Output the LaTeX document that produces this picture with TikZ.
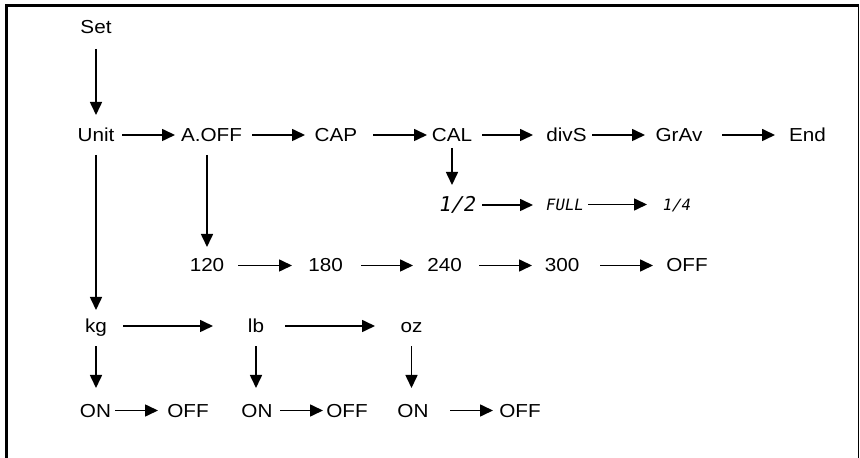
\documentclass[tikz,border=0pt]{standalone}
\usepackage{fontspec}
\setmainfont[FakeStretch=1.1]{Liberation Sans}
\newfontfamily\lcdfont[FakeSlant=0.18]{DejaVu Sans Mono}
\usetikzlibrary{arrows.meta}
\begin{document}
\begin{tikzpicture}[x=0.5pt,y=-0.5pt,
  lbl/.style={inner sep=0pt, outer sep=0pt, text height=6.5pt, text depth=0pt, font=\fontsize{9.4}{11}\selectfont},
  lcdbig/.style={inner sep=0pt, outer sep=0pt, text height=6.8pt, text depth=0pt, font=\lcdfont\fontsize{10.2}{12}\selectfont},
  lcdsmall/.style={inner sep=0pt, outer sep=0pt, text height=5.6pt, text depth=0pt, font=\lcdfont\fontsize{7.8}{9}\selectfont},
  arr/.style={line width=0.8pt, -{Triangle[length=6.5pt,width=6pt]}},
  frame/.style={line width=1.5pt}]
\useasboundingbox (0,0) rectangle (860,458);
% frame
\draw[frame] (6.5,458) -- (6.5,5.5) -- (859,5.5);
\draw[line width=0.6pt] (858.5,5) -- (858.5,458);
% row 0
\node[lbl] (set) at (96,27.5) {Set};
% row 1
\node[lbl] (unit) at (96,135) {Unit};
\node[lbl] (aoff) at (211.5,135) {A.OFF};
\node[lbl] (cap) at (336,135) {CAP};
\node[lbl] (cal) at (452,135) {CAL};
\node[lbl] (divs) at (566.5,135) {divS};
\node[lbl] (grav) at (679,135) {GrAv};
\node[lbl] (end) at (807.5,135) {End};
% row half
\node[lcdbig] (half) at (456.5,205) {1/2};
\node[lcdsmall] (full) at (564,204.5) {FULL};
\node[lcdsmall] (quar) at (676,204.5) {1/4};
% row 120
\node[lbl] (n120) at (207,265.5) {120};
\node[lbl] (n180) at (325.5,265.5) {180};
\node[lbl] (n240) at (444.5,265.5) {240};
\node[lbl] (n300) at (562,265.5) {300};
\node[lbl] (noff) at (687,265.5) {OFF};
% row kg
\node[lbl] (kg) at (96,326) {kg};
\node[lbl] (lb) at (256,326) {lb};
\node[lbl] (oz) at (411.5,326) {oz};
% bottom row
\node[lbl] (on1) at (95.5,410.5) {ON};
\node[lbl] (off1) at (188,410.5) {OFF};
\node[lbl] (on2) at (257,410.5) {ON};
\node[lbl] (off2) at (347,410.5) {OFF};
\node[lbl] (on3) at (413,410.5) {ON};
\node[lbl] (off3) at (520,410.5) {OFF};
% vertical connectors
\draw[arr, shorten <=10.75pt, shorten >=10pt] (set.center) -- (unit.center);
\draw[arr, shorten <=10pt, shorten >=8pt] (unit.center) -- (kg.center);
\draw[arr, shorten <=10pt, shorten >=9.25pt] (n120 |- aoff) -- (n120.center);
\draw[arr, shorten <=6.5pt, shorten >=10pt] (cal.center) -- (cal |- half);
\draw[arr, shorten <=10.25pt, shorten >=11.25pt] (kg.center) -- (kg |- on1);
\draw[arr, shorten <=10.25pt, shorten >=11.25pt] (lb.center) -- (lb |- on2);
\draw[arr, shorten <=10.25pt, shorten >=11.25pt] (oz.center) -- (oz |- on3);
% row 1 connectors
\draw[arr, shorten <=13pt, shorten >=18.25pt] (unit.center) -- (aoff.center);
\draw[arr, shorten <=20.25pt, shorten >=15.5pt] (aoff.center) -- (cap.center);
\draw[arr, shorten <=18.5pt, shorten >=12.5pt] (cap.center) -- (cal.center);
\draw[arr, shorten <=15pt, shorten >=16.75pt] (cal.center) -- (divs.center);
\draw[arr, shorten <=12.75pt, shorten >=17pt] (divs.center) -- (grav.center);
\draw[arr, shorten <=21.5pt, shorten >=16.25pt] (grav.center) -- (end.center);
% row half connectors
\draw[arr, shorten <=12.75pt, shorten >=15.5pt] (half.center) -- (half.center -| full.center);
\draw[arr, shorten <=12pt, shorten >=14.5pt] (full.center) -- (quar.center);
% row 120 connectors
\draw[arr, shorten <=15.5pt, shorten >=16.75pt] (n120.center) -- (n180.center);
\draw[arr, shorten <=17.75pt, shorten >=15.75pt] (n180.center) -- (n240.center);
\draw[arr, shorten <=17.25pt, shorten >=15pt] (n240.center) -- (n300.center);
\draw[arr, shorten <=19pt, shorten >=17pt] (n300.center) -- (noff.center);
% row kg connectors
\draw[arr, shorten <=13.5pt, shorten >=21.5pt] (kg.center) -- (lb.center);
\draw[arr, shorten <=14.5pt, shorten >=18.25pt] (lb.center) -- (oz.center);
% bottom connectors
\draw[arr, shorten <=9.75pt, shorten >=15pt] (on1.center) -- (off1.center);
\draw[arr, shorten <=11.5pt, shorten >=12pt] (on2.center) -- (off2.center);
\draw[arr, shorten <=18.5pt, shorten >=13.5pt] (on3.center) -- (off3.center);
\end{tikzpicture}
\end{document}
